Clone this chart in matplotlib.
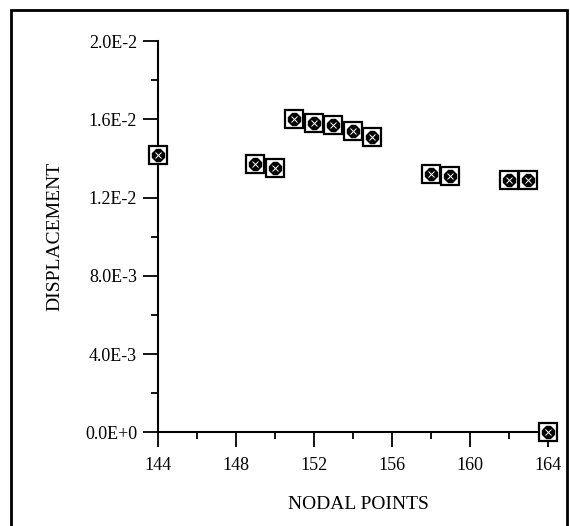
import matplotlib.pyplot as plt
import matplotlib.patches as patches
from matplotlib.ticker import MultipleLocator, FixedLocator

# nodal point numbers and displacement
nodes = [144, 149, 150, 151, 152, 153, 154, 155, 158, 159, 162, 163, 164]
disp = [0.0142, 0.0137, 0.0135, 0.0160, 0.0158, 0.0157, 0.0154, 0.0151,
        0.0132, 0.0131, 0.0129, 0.0129, 0.0]

y_ticks = [0.0, 0.004, 0.008, 0.012, 0.016, 0.020]
y_labels = ['0.0E+0', '4.0E-3', '8.0E-3', '1.2E-2', '1.6E-2', '2.0E-2']
x_ticks = [144, 148, 152, 156, 160, 164]

plt.rcParams['font.family'] = ['Liberation Serif', 'DejaVu Serif']

fig = plt.figure(figsize=(5.7, 5.26), dpi=100)
ax = fig.add_axes([0.277, 0.178, 0.691, 0.744])

ax.plot(nodes, disp, 's', ms=13, mfc='white', mec='black', mew=1.6, clip_on=False, zorder=3)
ax.plot(nodes, disp, '8', ms=9, color='black', clip_on=False, zorder=4)
ax.plot(nodes, disp, 'x', ms=4, mew=0.7, color='white', clip_on=False, zorder=5)

ax.set_xlim(144, 164.2)
ax.set_ylim(0, 0.02)

ax.spines['top'].set_visible(False)
ax.spines['right'].set_visible(False)
for s in ['left', 'bottom']:
    ax.spines[s].set_linewidth(1.5)

ax.xaxis.set_major_locator(FixedLocator(x_ticks))
ax.xaxis.set_minor_locator(MultipleLocator(2))
ax.yaxis.set_major_locator(FixedLocator(y_ticks))
ax.yaxis.set_minor_locator(MultipleLocator(0.002))
ax.set_yticklabels(y_labels)

ax.tick_params(which='major', length=11, width=1.3, labelsize=13, pad=4)
ax.tick_params(axis='x', which='major', pad=7)
ax.tick_params(which='minor', length=5, width=1.3)

ax.set_xlabel('NODAL POINTS', fontsize=14)
ax.set_ylabel('DISPLACEMENT', fontsize=14)
ax.xaxis.set_label_coords(0.508, -0.163)
ax.yaxis.set_label_coords(-0.24, 0.5)

# frame round the whole picture
frame = patches.Rectangle((11/570, -0.05), (567-11)/570, 1-10/526+0.05,
                          transform=fig.transFigure, fill=False, lw=2,
                          edgecolor='black')
fig.patches.append(frame)

fig.savefig('out.png', dpi=100)
